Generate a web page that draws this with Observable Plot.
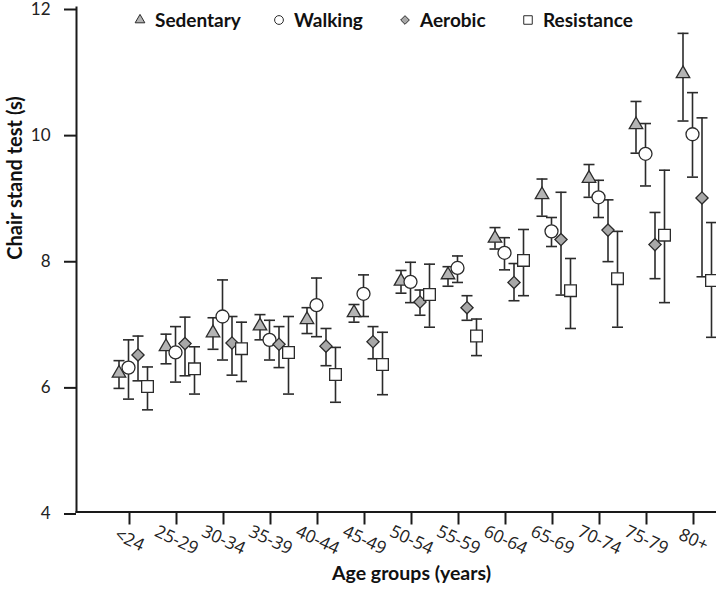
<!DOCTYPE html>
<html>
<head>
<meta charset="utf-8">
<script src="https://cdn.jsdelivr.net/npm/d3@7"></script>
<script src="https://cdn.jsdelivr.net/npm/@observablehq/plot@0.6"></script>
<style>
  body { margin: 0; background: #fff; }
  #wrap { position: relative; width: 716px; height: 595px; }
  #legend { position: absolute; left: 0; top: 0; width: 716px; height: 40px; }
</style>
</head>
<body>
<div id="wrap"><div id="legend"></div></div>
<script>
const ageGroups = ["<24","25-29","30-34","35-39","40-44","45-49","50-54","55-59","60-64","65-69","70-74","75-79","80+"];
const seriesNames = ["Sedentary","Walking","Aerobic","Resistance"];
const yTicks = [4, 6, 8, 10, 12];

const sedentaryMean = [6.20, 6.62, 6.84, 6.95, 7.05, 7.16, 7.66, 7.76, 8.34, 9.03, 9.29, 10.14, 10.95];
const sedentaryLow  = [5.96, 6.35, 6.58, 6.73, 6.83, 7.01, 7.47, 7.58, 8.17, 8.69, 8.99, 9.69, 10.20];
const sedentaryHigh = [6.40, 6.82, 7.08, 7.13, 7.24, 7.29, 7.83, 7.89, 8.51, 9.28, 9.51, 10.51, 11.59];

const walkingMean = [6.29, 6.53, 7.10, 6.73, 7.28, 7.46, 7.65, 7.87, 8.11, 8.45, 8.99, 9.68, 9.99];
const walkingLow  = [5.79, 6.06, 6.41, 6.41, 6.78, 7.10, 7.32, 7.64, 7.84, 8.21, 8.67, 9.17, 9.31];
const walkingHigh = [6.73, 6.94, 7.68, 7.04, 7.71, 7.76, 7.96, 8.06, 8.35, 8.67, 9.26, 10.16, 10.65];

const aerobicMean = [6.49, 6.67, 6.68, 6.66, 6.63, 6.70, 7.33, 7.24, 7.64, 8.32, 8.47, 8.24, 8.98];
const aerobicLow  = [6.08, 6.16, 6.17, 6.29, 6.32, 6.43, 7.12, 7.04, 7.35, 7.44, 7.97, 7.70, 7.73];
const aerobicHigh = [6.79, 7.09, 7.10, 6.94, 6.91, 6.94, 7.52, 7.43, 7.94, 9.07, 8.95, 8.75, 10.25];

const resistanceMean = [5.99, 6.27, 6.59, 6.53, 6.18, 6.34, 7.45, 6.79, 7.99, 7.51, 7.70, 8.39, 7.67];
const resistanceLow  = [5.62, 5.87, 6.07, 5.87, 5.74, 5.86, 6.93, 6.48, 7.43, 6.91, 6.93, 7.32, 6.77];
const resistanceHigh = [6.30, 6.62, 7.01, 7.10, 6.61, 6.85, 7.93, 7.06, 8.48, 8.02, 8.45, 9.42, 8.59];

const seriesData = [
  [sedentaryMean, sedentaryLow, sedentaryHigh],
  [walkingMean, walkingLow, walkingHigh],
  [aerobicMean, aerobicLow, aerobicHigh],
  [resistanceMean, resistanceLow, resistanceHigh]
];

// styling per series
const styles = [
  {symbol: "triangle", r: 5, fill: "#b4b4b4", dx: -12.5, lr: 3.6},
  {symbol: "circle",   r: 6.5, fill: "#ffffff", dx: -3, lr: 4.4},
  {symbol: "diamond2", r: 5.5, fill: "#a8a8a8", dx: 6.5, lr: 3.9},
  {symbol: "square",   r: 6.6, fill: "#ffffff", dx: 16, lr: 4.8}
];
const ink = "#2b2b2b";

const capSymbol = {
  draw(ctx, size) {
    const w = Math.sqrt(size / Math.PI);
    ctx.moveTo(-w, 0);
    ctx.lineTo(w, 0);
  }
};

const marks = [];
seriesNames.forEach((name, i) => {
  const [m, lo, hi] = seriesData[i];
  const rows = ageGroups.map((age, j) => ({age, series: name, mean: m[j], low: lo[j], high: hi[j]}));
  const st = styles[i];
  marks.push(Plot.ruleX(rows, {x: "age", y1: "low", y2: "high", dx: st.dx, stroke: ink, strokeWidth: 1.6}));
  marks.push(Plot.dot(rows, {x: "age", y: "low", dx: st.dx, symbol: capSymbol, r: 5.5, fill: "none", stroke: ink, strokeWidth: 1.6}));
  marks.push(Plot.dot(rows, {x: "age", y: "high", dx: st.dx, symbol: capSymbol, r: 5.5, fill: "none", stroke: ink, strokeWidth: 1.6}));
});
seriesNames.forEach((name, i) => {
  const [m] = seriesData[i];
  const rows = ageGroups.map((age, j) => ({age, series: name, mean: m[j]}));
  const st = styles[i];
  marks.push(Plot.dot(rows, {x: "age", y: "mean", dx: st.dx, symbol: st.symbol, r: st.r, fill: st.fill, stroke: ink, strokeWidth: 1.3}));
});

const chart = Plot.plot({
  width: 716,
  height: 595,
  marginLeft: 76,
  marginRight: 0,
  marginTop: 7,
  marginBottom: 83.5,
  style: {background: "#fff", color: "#222"},
  x: {type: "point", domain: ageGroups, padding: 0.745, align: 0.73},
  y: {domain: [4, 12]},
  marks: [
    ...marks,
    Plot.frame({anchor: "left", stroke: "#1a1a1a", strokeWidth: 2}),
    Plot.frame({anchor: "bottom", stroke: "#1a1a1a", strokeWidth: 2}),
    Plot.axisY({ticks: yTicks, tickSize: 12, tickPadding: 14, fontSize: 17, fontFamily: "Lato", label: null, stroke: "#1a1a1a", strokeWidth: 2, color: "#222", dy: 2}),
    Plot.axisX({tickSize: 13, tickPadding: 15, tickRotate: 25, textAnchor: "middle", lineAnchor: "middle", fontSize: 17.5, fontFamily: "Open Sans", label: null, stroke: "#1a1a1a", strokeWidth: 2, color: "#222", dx: -2}),
    Plot.text(["Chair stand test (s)"], {frameAnchor: "left", rotate: -90, dx: -61, fontWeight: "bold", fontSize: 20, fontFamily: "Lato", fill: "#111"}),
    Plot.text(["Age groups (years)"], {frameAnchor: "bottom", dy: 68, dx: 15, fontWeight: "bold", fontSize: 19.5, fontFamily: "Lato", fill: "#111"})
  ]
});
document.getElementById("wrap").insertBefore(chart, document.getElementById("legend"));

// legend (HTML overlay above the plot area)
const legendPos = [140, 279, 405, 528];
const legendSvg = d3.select("#legend").append("svg").attr("width", 716).attr("height", 40);
const symbolTypes = {triangle: d3.symbolTriangle, circle: d3.symbolCircle, diamond2: d3.symbolDiamond2, square: d3.symbolSquare};
seriesNames.forEach((name, i) => {
  const st = styles[i];
  const g = legendSvg.append("g").attr("transform", `translate(${legendPos[i]},20)`);
  g.append("path")
    .attr("d", d3.symbol(symbolTypes[st.symbol], Math.PI * st.lr * st.lr)())
    .attr("fill", st.fill).attr("stroke", ink).attr("stroke-width", 1);
  g.append("text").attr("x", 15).attr("y", 0).attr("dy", "0.36em")
    .attr("font-family", "Lato").attr("font-weight", "bold").attr("font-size", 19)
    .attr("fill", "#111").text(name);
});
</script>
</body>
</html>
